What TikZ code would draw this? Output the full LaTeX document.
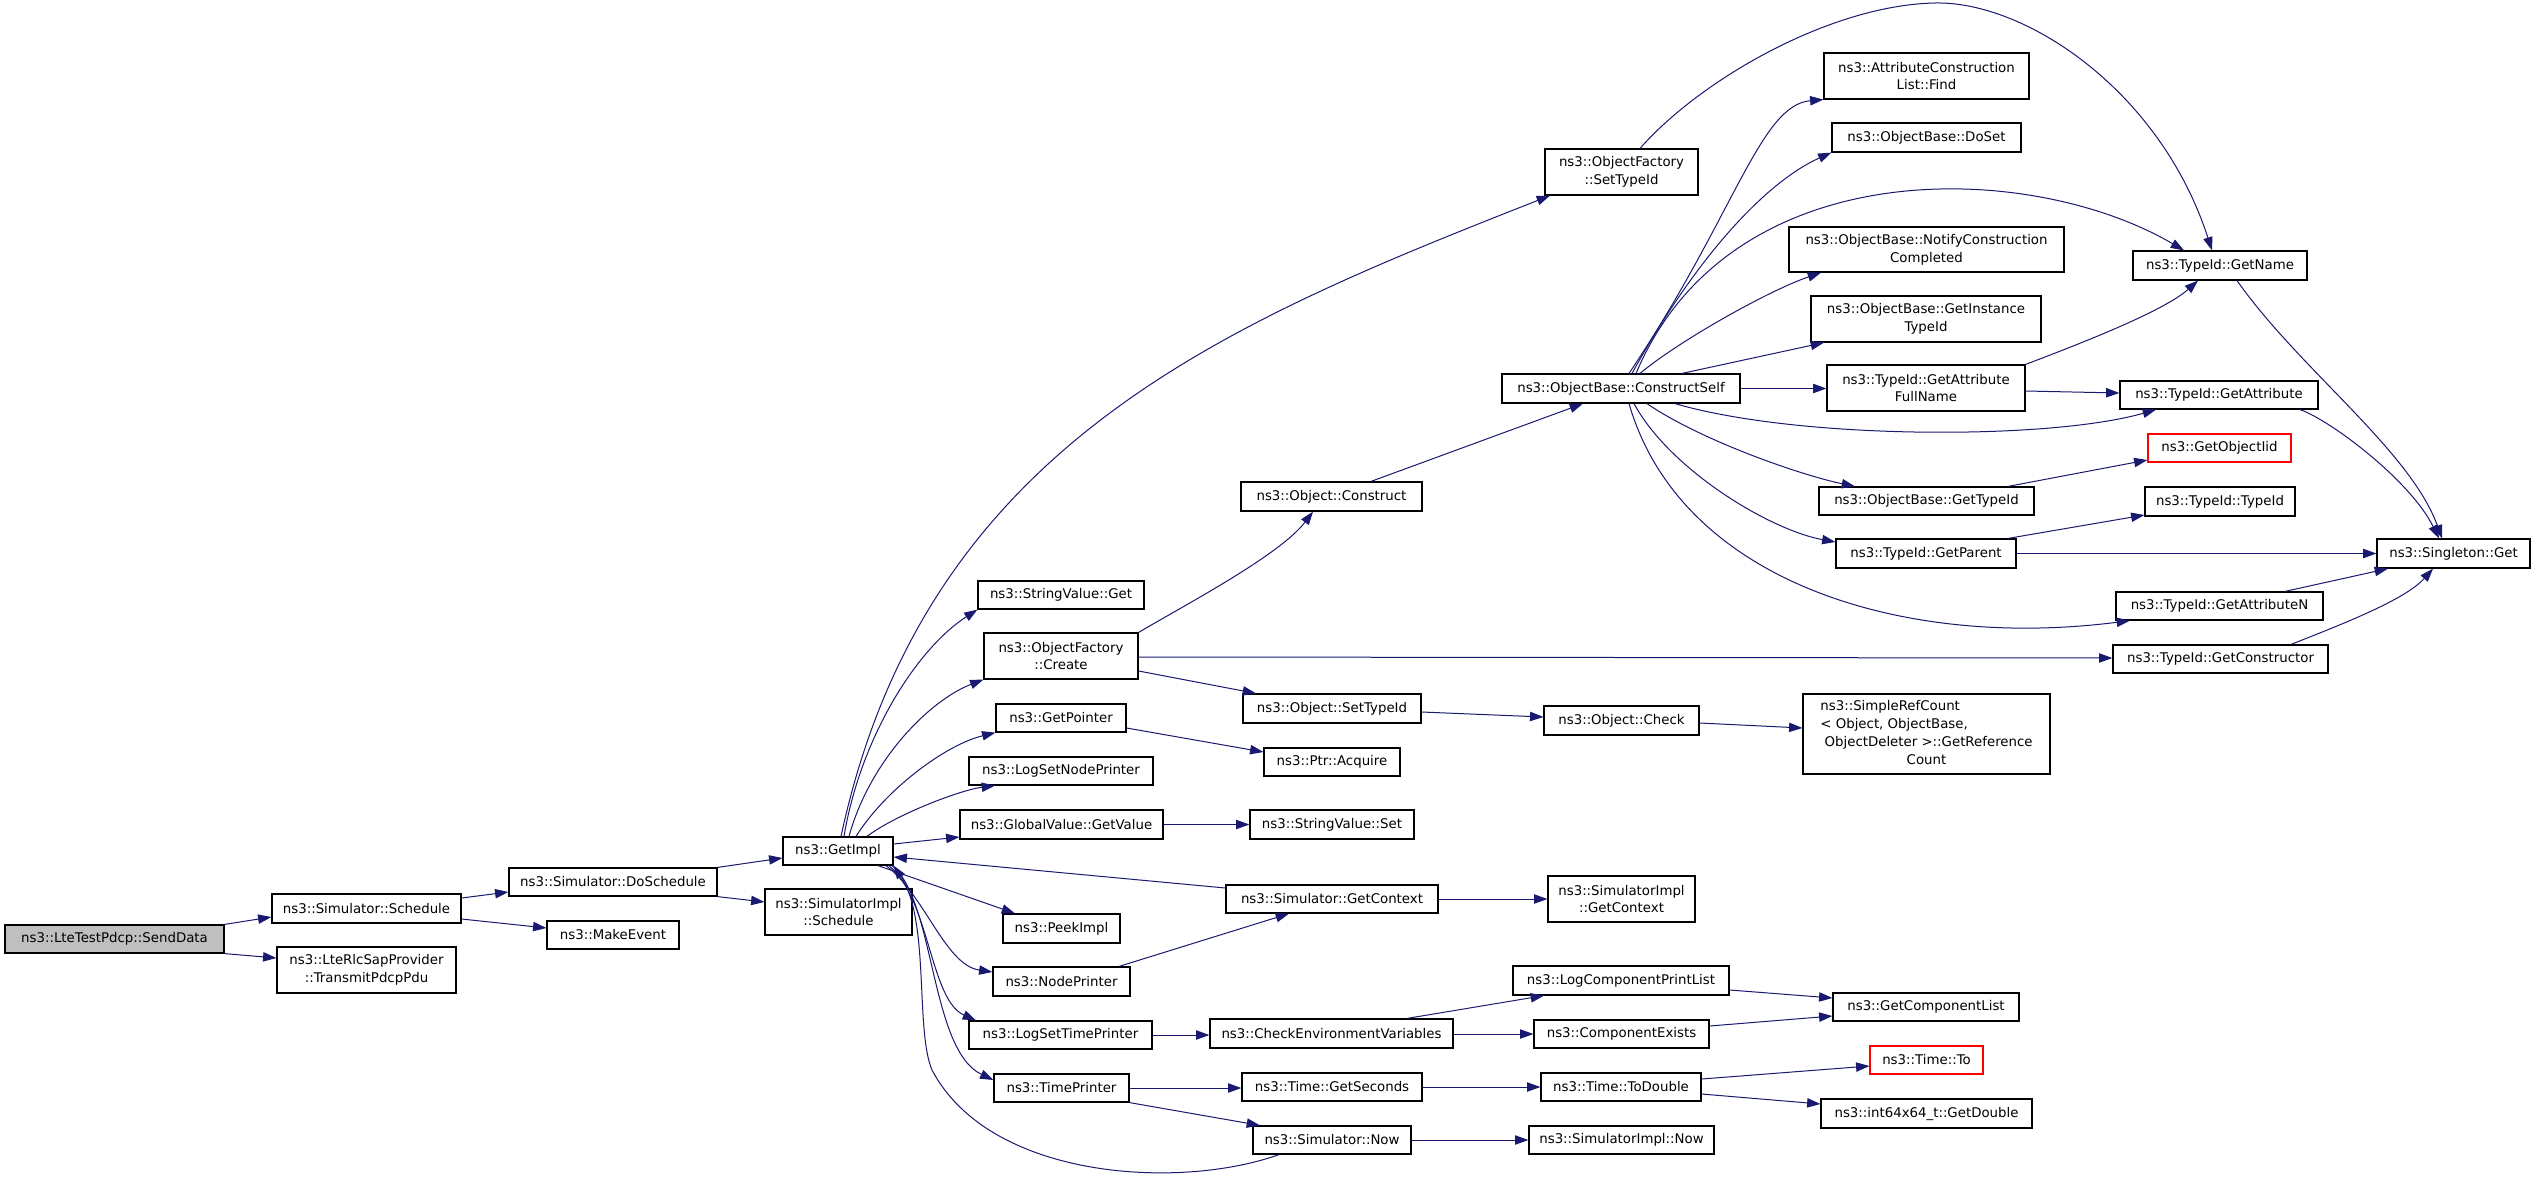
\documentclass[tikz,border=0pt]{standalone}
\usepackage{fontspec}
\setmainfont{DejaVu Sans}
\usetikzlibrary{arrows.meta,calc}
\definecolor{edgeblue}{HTML}{191970}
\definecolor{sendgray}{HTML}{BFBFBF}
\tikzset{
 box/.style={draw=black,line width=0.9pt,inner sep=0pt,align=center,font=\fontsize{10}{13.3}\selectfont,fill=white},
 sz/.style n args={2}{minimum width=#1*0.75pt,minimum height=#2*0.75pt},
 redbox/.style={box,draw=red},
 edge/.style={draw=edgeblue,line width=0.75pt,-{Triangle[length=10pt,width=7pt]}}
}
\begin{document}
\begin{tikzpicture}[x=0.75pt,y=-0.75pt]
\useasboundingbox[fill=white] (0,0) rectangle (2536,1178);

\node[box,sz={219}{28},fill=sendgray] (send) at (114.5,939) {ns3::LteTestPdcp::SendData};
\node[box,sz={189}{29}] (sched) at (366.5,908.5) {ns3::Simulator::Schedule};
\node[box,sz={179}{46}] (trans) at (366.5,970) {ns3::LteRlcSapProvider\\::TransmitPdcpPdu};
\node[box,sz={208}{28}] (dosch) at (613,882) {ns3::Simulator::DoSchedule};
\node[box,sz={132}{28}] (mkev) at (613,935) {ns3::MakeEvent};
\node[box,sz={110}{28}] (getimpl) at (838,851) {ns3::GetImpl};
\node[box,sz={147}{46}] (simsch) at (838.5,912) {ns3::SimulatorImpl\\::Schedule};
\node[box,sz={153}{46}] (ofsti) at (1621.5,172) {ns3::ObjectFactory\\::SetTypeId};
\node[box,sz={166}{28}] (svget) at (1061,595) {ns3::StringValue::Get};
\node[box,sz={154}{46}] (ofcreate) at (1061,656) {ns3::ObjectFactory\\::Create};
\node[box,sz={130}{28}] (getptr) at (1061,718) {ns3::GetPointer};
\node[box,sz={184}{28}] (lsnp) at (1061,771) {ns3::LogSetNodePrinter};
\node[box,sz={203}{29}] (gvgv) at (1061.5,824.5) {ns3::GlobalValue::GetValue};
\node[box,sz={117}{29}] (peek) at (1061.5,928.5) {ns3::PeekImpl};
\node[box,sz={137}{29}] (nodepr) at (1061.5,981.5) {ns3::NodePrinter};
\node[box,sz={183}{28}] (lstp) at (1060.5,1035) {ns3::LogSetTimePrinter};
\node[box,sz={135}{28}] (timepr) at (1061.5,1088) {ns3::TimePrinter};
\node[box,sz={181}{29}] (oconstruct) at (1331.5,496.5) {ns3::Object::Construct};
\node[box,sz={178}{29}] (osti) at (1332,708.5) {ns3::Object::SetTypeId};
\node[box,sz={136}{28}] (acquire) at (1332,762) {ns3::Ptr::Acquire};
\node[box,sz={164}{29}] (svset) at (1332,824.5) {ns3::StringValue::Set};
\node[box,sz={212}{28}] (sgctx) at (1332,899) {ns3::Simulator::GetContext};
\node[box,sz={243}{29}] (cev) at (1331.5,1033.5) {ns3::CheckEnvironmentVariables};
\node[box,sz={180}{28}] (gsec) at (1332,1087) {ns3::Time::GetSeconds};
\node[box,sz={158}{28}] (snow) at (1332,1140) {ns3::Simulator::Now};
\node[box,sz={238}{29}] (cself) at (1621,388.5) {ns3::ObjectBase::ConstructSelf};
\node[box,sz={155}{29}] (ocheck) at (1621.5,720.5) {ns3::Object::Check};
\node[box,sz={147}{46}] (sictx) at (1621.5,899) {ns3::SimulatorImpl\\::GetContext};
\node[box,sz={216}{29}] (lcpl) at (1621,980.5) {ns3::LogComponentPrintList};
\node[box,sz={175}{28}] (cexists) at (1621.5,1034) {ns3::ComponentExists};
\node[box,sz={160}{28}] (todouble) at (1621,1087) {ns3::Time::ToDouble};
\node[box,sz={185}{28}] (sinow) at (1621.5,1140) {ns3::SimulatorImpl::Now};
\node[box,sz={205}{46}] (acfind) at (1926.5,76) {ns3::AttributeConstruction\\List::Find};
\node[box,sz={189}{29}] (doset) at (1926.5,137.5) {ns3::ObjectBase::DoSet};
\node[box,sz={275}{45}] (notify) at (1926.5,249.5) {ns3::ObjectBase::NotifyConstruction\\Completed};
\node[box,sz={230}{46}] (gitid) at (1926,319) {ns3::ObjectBase::GetInstance\\TypeId};
\node[box,sz={198}{46}] (gafn) at (1926,388) {ns3::TypeId::GetAttribute\\FullName};
\node[box,sz={215}{28}] (obgtid) at (1926.5,501) {ns3::ObjectBase::GetTypeId};
\node[box,sz={180}{29}] (getparent) at (1926,553.5) {ns3::TypeId::GetParent};
\node[box,sz={247}{80}] (src) at (1926.5,734) {\begin{tabular}{@{}l@{}}ns3::SimpleRefCount\\< Object, ObjectBase,\\\ ObjectDeleter >::GetReference\\\multicolumn{1}{@{}c@{}}{Count}\end{tabular}};
\node[box,sz={186}{28}] (gcl) at (1926,1007) {ns3::GetComponentList};
\node[redbox,sz={113}{28}] (timeto) at (1926.5,1060) {ns3::Time::To};
\node[box,sz={211}{29}] (gdouble) at (1926.5,1113.5) {ns3::int64x64\_t::GetDouble};
\node[box,sz={174}{29}] (getname) at (2220,265.5) {ns3::TypeId::GetName};
\node[box,sz={198}{28}] (getattr) at (2219,395) {ns3::TypeId::GetAttribute};
\node[redbox,sz={143}{28}] (goiid) at (2219.5,448) {ns3::GetObjectIid};
\node[box,sz={150}{29}] (tidtid) at (2220,501.5) {ns3::TypeId::TypeId};
\node[box,sz={207}{28}] (gan) at (2219.5,606) {ns3::TypeId::GetAttributeN};
\node[box,sz={215}{28}] (gctor) at (2220.5,659) {ns3::TypeId::GetConstructor};
\node[box,sz={153}{29}] (singleton) at (2453.5,553.5) {ns3::Singleton::Get};

\draw[edge] (send.north east) -- (sched.west |- 0,917);
\draw[edge] (send.south east) -- (trans.west |- 0,958);
\draw[edge] (sched.east |- 0,898) -- (dosch.west |- 0,892);
\draw[edge] (sched.east |- 0,919) -- (mkev.west |- 0,928);
\draw[edge] (dosch.north east) -- (getimpl.west |- 0,858);
\draw[edge] (dosch.south east) -- (simsch.west |- 0,902);
\draw[edge] (getimpl.north -| 841,0) .. controls (925,445) and (1224,324) .. (ofsti.south -| 1550,0);
\draw[edge] (getimpl.north -| 844,0) .. controls (860,740) and (915,650) .. (svget.south west);
\draw[edge] (getimpl.north -| 849,0) .. controls (870,760) and (930,700) .. (ofcreate.south west);
\draw[edge] (getimpl.north -| 856,0) .. controls (885,790) and (945,745) .. (getptr.south west);
\draw[edge] (getimpl.north -| 867,0) .. controls (895,815) and (960,790) .. (lsnp.south -| 995,0);
\draw[edge] (getimpl.east |- 0,844) -- (gvgv.west |- 0,837);
\draw[edge] (sgctx.west |- 0,888) -- (getimpl.east |- 0,857);
\draw[edge] (getimpl.south -| 878,0) -- (peek.north -| 1015,0);
\draw[edge] (getimpl.south -| 886,0) .. controls (925,895) and (945,965) .. (nodepr.west |- 0,972);
\draw[edge] (getimpl.south -| 889,0) .. controls (930,900) and (930,1000) .. (lstp.north -| 976,0);
\draw[edge] (getimpl.south -| 892,0) .. controls (935,900) and (930,1050) .. (timepr.west |- 0,1080);
\draw[edge] (snow.south -| 1279,0) .. controls (1180,1190) and (990,1180) .. (932,1070) .. controls (915,1030) and (930,920) .. (getimpl.south east);
\draw[edge] (ofcreate.north east) .. controls (1185,605) and (1280,555) .. (oconstruct.south -| 1313,0);
\draw[edge] (ofcreate.east |- 0,657) -- (gctor.west |- 0,658);
\draw[edge] (ofcreate.east |- 0,671) -- (osti.north -| 1256,0);
\draw[edge] (getptr.east |- 0,728) -- (acquire.west |- 0,752);
\draw[edge] (gvgv.east) -- (svset.west);
\draw[edge] (osti.east |- 0,712) -- (ocheck.west |- 0,717);
\draw[edge] (ocheck.east |- 0,723) -- (src.west |- 0,728);
\draw[edge] (sgctx.east) -- (sictx.west);
\draw[edge] (nodepr.north -| 1119,0) -- (sgctx.south -| 1289,0);
\draw[edge] (lstp.east) -- (cev.west |- lstp.east);
\draw[edge] (cev.north -| 1407,0) -- (lcpl.south -| 1544,0);
\draw[edge] (cev.east |- 0,1034) -- (cexists.west |- 0,1034);
\draw[edge] (lcpl.east |- 0,990) -- (gcl.west |- 0,998);
\draw[edge] (cexists.east |- 0,1026) -- (gcl.west |- 0,1016);
\draw[edge] (timepr.east |- 0,1088) -- (gsec.west |- 0,1088);
\draw[edge] (timepr.south east) -- (snow.north -| 1260,0);
\draw[edge] (gsec.east |- 0,1087) -- (todouble.west |- 0,1087);
\draw[edge] (snow.east) -- (sinow.west);
\draw[edge] (todouble.east |- 0,1079) -- (timeto.west |- 0,1066);
\draw[edge] (todouble.east |- 0,1094) -- (gdouble.west |- 0,1104);
\draw[edge] (oconstruct.north -| 1371,0) -- (cself.south -| 1583,0);
\draw[edge] (cself.north -| 1629,0) .. controls (1735,215) and (1760,105) .. (acfind.south west);
\draw[edge] (cself.north -| 1632,0) .. controls (1700,250) and (1770,180) .. (doset.south west);
\draw[edge] (cself.north -| 1640,0) .. controls (1680,340) and (1770,290) .. (notify.south -| 1821,0);
\draw[edge] (cself.north -| 1682,0) -- (gitid.south -| 1824,0);
\draw[edge] (cself.east) -- (gafn.west |- cself.east);
\draw[edge] (cself.north -| 1636,0) .. controls (1730,150) and (2030,160) .. (getname.north -| 2184,0);
\draw[edge] (cself.south -| 1675,0) .. controls (1800,440) and (2050,440) .. (getattr.south -| 2156,0);
\draw[edge] (gafn.north east) .. controls (2090,340) and (2165,310) .. (getname.south -| 2198,0);
\draw[edge] (gafn.east |- 0,391) -- (getattr.west |- 0,393);
\draw[edge] (ofsti.north -| 1640,0) .. controls (1700,80) and (1830,5) .. (1935,3) .. controls (2025,1) and (2160,90) .. (getname.north -| 2212,0);
\draw[edge] (getname.south -| 2237,0) .. controls (2300,370) and (2410,450) .. (singleton.north -| 2442,0);
\draw[edge] (getattr.south -| 2300,0) .. controls (2330,420) and (2410,480) .. (singleton.north -| 2439,0);
\draw[edge] (cself.south -| 1647,0) .. controls (1700,440) and (1800,475) .. (obgtid.north -| 1855,0);
\draw[edge] (cself.south -| 1634,0) .. controls (1670,470) and (1770,530) .. (getparent.west |- 0,542);
\draw[edge] (cself.south -| 1629,0) .. controls (1680,580) and (1900,650) .. (gan.south -| 2130,0);
\draw[edge] (obgtid.north -| 2008,0) -- (goiid.west |- 0,460);
\draw[edge] (getparent.north -| 2008,0) -- (tidtid.west |- 0,515);
\draw[edge] (getparent.east) -- (singleton.west);
\draw[edge] (gan.north -| 2285,0) -- (singleton.south -| 2388,0);
\draw[edge] (gctor.north -| 2291,0) .. controls (2340,625) and (2405,600) .. (singleton.south -| 2433,0);
\end{tikzpicture}
\end{document}
